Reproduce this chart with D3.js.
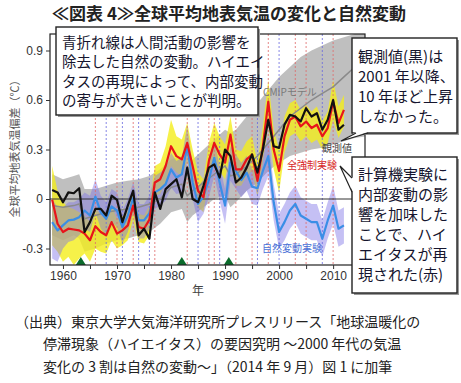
<!DOCTYPE html>
<html><head><meta charset="utf-8">
<script src="https://cdn.jsdelivr.net/npm/d3@7"></script>
<style>
html,body{margin:0;padding:0;background:#fff;}
svg{display:block;}
</style></head>
<body>
<svg id="c" width="461" height="383"></svg>
<script>
// ---------------- data ----------------
const years = d3.range(1958, 2013);
const observed = [0.055,0.04,-0.02,0.04,0.035,0.065,-0.20,-0.14,-0.06,-0.06,-0.10,0.02,-0.005,-0.14,-0.04,0.05,-0.22,-0.18,-0.24,0.04,-0.06,0.06,0.09,0.12,0.01,0.19,0.00,-0.02,0.08,0.19,0.21,0.13,0.30,0.26,0.10,0.13,0.19,0.27,0.16,0.30,0.48,0.32,0.31,0.45,0.51,0.50,0.47,0.55,0.50,0.52,0.42,0.48,0.60,0.42,0.45];
const allForcing = [-0.005,-0.15,-0.20,-0.18,-0.185,-0.19,-0.21,-0.25,-0.165,-0.20,-0.22,-0.14,-0.21,-0.19,-0.16,-0.04,-0.17,-0.18,-0.125,0.10,0.12,0.20,0.32,0.26,0.24,0.34,0.20,0.05,0.01,0.23,0.34,0.27,0.22,0.39,0.18,0.18,0.24,0.27,0.11,0.32,0.59,0.30,0.17,0.38,0.48,0.50,0.44,0.47,0.43,0.45,0.38,0.43,0.59,0.46,0.54];
const natural = [-0.14,-0.19,-0.16,-0.13,-0.125,-0.11,-0.07,-0.10,0.015,-0.08,-0.12,-0.045,-0.07,-0.17,-0.10,0.005,-0.13,-0.13,-0.085,0.04,0.06,0.09,0.18,0.13,0.15,0.32,0.10,-0.03,0.015,0.115,0.25,0.10,-0.04,0.22,0.17,0.115,0.16,0.075,0.065,0.17,0.26,-0.02,-0.20,-0.14,-0.07,-0.03,-0.10,-0.12,-0.14,-0.14,-0.24,-0.13,-0.04,-0.18,-0.16];
const allForcingLo = [-0.28,-0.32,-0.38,-0.35,-0.40,-0.36,-0.33,-0.38,-0.30,-0.32,-0.33,-0.25,-0.30,-0.28,-0.25,-0.12,-0.26,-0.27,-0.22,0.02,0.03,0.10,0.20,0.16,0.14,0.22,0.10,-0.05,-0.08,0.12,0.24,0.17,0.12,0.28,0.08,0.08,0.14,0.17,0.01,0.22,0.46,0.18,0.04,0.28,0.38,0.40,0.35,0.38,0.34,0.36,0.30,0.34,0.48,0.37,0.44];
const allForcingHi = [0.20,0.05,-0.02,-0.05,-0.06,-0.08,-0.10,-0.14,-0.05,-0.10,-0.12,-0.04,-0.12,-0.10,-0.07,0.05,-0.09,-0.10,-0.04,0.20,0.22,0.32,0.48,0.38,0.36,0.46,0.30,0.16,0.12,0.34,0.46,0.38,0.33,0.50,0.30,0.29,0.35,0.38,0.22,0.44,0.72,0.42,0.30,0.50,0.58,0.60,0.54,0.57,0.53,0.56,0.47,0.53,0.72,0.56,0.63];
const naturalLo = [-0.36,-0.38,-0.30,-0.26,-0.25,-0.22,-0.18,-0.20,-0.08,-0.18,-0.22,-0.14,-0.17,-0.27,-0.20,-0.09,-0.24,-0.24,-0.18,-0.06,-0.04,-0.01,0.07,0.03,0.04,0.20,0.00,-0.14,-0.09,0.01,0.14,-0.01,-0.15,0.11,0.06,0.01,0.05,-0.03,-0.04,0.06,0.14,-0.13,-0.30,-0.25,-0.18,-0.14,-0.21,-0.23,-0.25,-0.25,-0.35,-0.24,-0.15,-0.29,-0.27];
const naturalHi = [0.00,-0.05,-0.05,-0.02,-0.02,0.00,0.04,0.02,0.12,0.02,-0.02,0.06,0.04,-0.07,0.00,0.10,-0.03,-0.03,0.02,0.14,0.16,0.19,0.28,0.23,0.25,0.45,0.20,0.07,0.12,0.22,0.36,0.20,0.06,0.32,0.27,0.22,0.26,0.18,0.17,0.27,0.38,0.09,-0.09,-0.03,0.04,0.08,0.01,-0.01,-0.03,-0.03,-0.13,-0.02,0.08,-0.07,-0.05];
const cmipYears = [1958,1960,1962,1963,1964,1966,1968,1970,1972,1974,1976,1978,1980,1982,1983,1984,1986,1988,1990,1991,1992,1994,1996,1998,2000,2002,2004,2006,2008,2010,2012,2014,2016];
const cmipLo   = [-0.22,-0.25,-0.22,-0.24,-0.32,-0.30,-0.27,-0.25,-0.24,-0.22,-0.20,-0.15,-0.08,-0.06,-0.14,-0.10,-0.05,0.00,0.02,-0.05,-0.02,0.05,0.10,0.17,0.22,0.26,0.28,0.30,0.31,0.33,0.35,0.37,0.38];
const cmipHi   = [0.15,0.12,0.14,0.15,0.06,0.06,0.08,0.10,0.11,0.12,0.14,0.18,0.24,0.26,0.20,0.24,0.30,0.36,0.42,0.40,0.42,0.50,0.58,0.66,0.74,0.80,0.86,0.90,0.93,0.96,0.98,1.00,1.00];
const cmipMean = [-0.04,-0.05,-0.04,-0.03,-0.12,-0.10,-0.08,-0.07,-0.06,-0.05,-0.03,0.00,0.07,0.09,0.02,0.05,0.10,0.15,0.20,0.14,0.15,0.20,0.26,0.34,0.42,0.50,0.55,0.60,0.64,0.68,0.74,0.80,0.84];
const elNinoYears = [1966,1970,1973,1977,1983,1987,1988,1992,1995,1998,2003,2005,2010];
const laNinaYears = [1968,1971,1974,1976,1985,1989,1996,2000,2008];
const volcanoYears = [1963.3, 1982, 1990.7];
const yTicks = [-0.3, 0, 0.3, 0.6, 0.9];
const yTickLabels = ["-0.3","0","0.3","0.6","0.9"];
const xMinorTicks = d3.range(1960, 2015, 5);
const xLabelYears = [1960,1970,1980,1990,2000,2010];

const title = "≪図表 4≫全球平均地表気温の変化と自然変動";
const yTitle = "全球平均地表気温偏差（℃）";
const xTitle = "年";
const box1Lines = ["青折れ線は人間活動の影響を","除去した自然の変動。ハイエイ","タスの再現によって、内部変動","の寄与が大きいことが判明。"];
const box2Lines = ["観測値(黒)は","2001 年以降、","10 年ほど上昇","しなかった。"];
const box3Lines = ["計算機実験に","内部変動の影","響を加味した","ことで、ハイ","エイタスが再","現された(赤)"];
const sourceLines = ["（出典）東京大学大気海洋研究所プレスリリース「地球温暖化の","停滞現象（ハイエイタス）の要因究明 ～2000 年代の気温","変化の 3 割は自然の変動～」（2014 年 9 月）図 1 に加筆"];

// ---------------- drawing ----------------
const svg = d3.select("#c");
const L = 50, R = 365, T = 34, B = 265;
const x = d3.scaleLinear().domain([1957.6, 2015.9]).range([L, R]);
const y = d3.scaleLinear().domain([-0.4, 1.0]).range([B, T]);
const JP = "'Noto Sans CJK JP','Noto Sans',sans-serif";
const SANS = "'Liberation Sans',Arial,sans-serif";

svg.append("defs").append("clipPath").attr("id","plotclip")
  .append("rect").attr("x",L).attr("y",T).attr("width",R-L).attr("height",B-T);

// title
svg.append("text").attr("x",229).attr("y",20).attr("text-anchor","middle")
  .attr("font-family",JP).attr("font-weight","bold").attr("font-size",17).attr("fill","#222").text(title);

const g = svg.append("g").attr("clip-path","url(#plotclip)");

// CMIP band
const cmip = cmipYears.map((yr,i)=>({yr, lo:cmipLo[i], hi:cmipHi[i], m:cmipMean[i]}));
g.append("path").datum(cmip)
  .attr("d", d3.area().x(d=>x(d.yr)).y0(d=>y(d.lo)).y1(d=>y(d.hi)))
  .attr("fill","#b4b4b4").attr("opacity",0.85);

const rows = years.map((yr,i)=>({yr, o:observed[i], a:allForcing[i], n:natural[i],
  alo:allForcingLo[i], ahi:allForcingHi[i], nlo:naturalLo[i], nhi:naturalHi[i]}));

// yellow band
g.append("path").datum(rows)
  .attr("d", d3.area().x(d=>x(d.yr)).y0(d=>y(d.alo)).y1(d=>y(d.ahi)))
  .attr("fill","#f4ee1c").attr("opacity",0.8);
// purple band
g.append("path").datum(rows)
  .attr("d", d3.area().x(d=>x(d.yr)).y0(d=>y(d.nlo)).y1(d=>y(d.nhi)))
  .attr("fill","#7e74e6").attr("opacity",0.45);

// event lines
g.selectAll("line.en").data(elNinoYears).join("line").attr("class","en")
  .attr("x1",d=>x(d)).attr("x2",d=>x(d)).attr("y1",T).attr("y2",B)
  .attr("stroke","#e06a6a").attr("stroke-width",1).attr("stroke-dasharray","2,2").attr("opacity",0.8);
g.selectAll("line.ln").data(laNinaYears).join("line").attr("class","ln")
  .attr("x1",d=>x(d)).attr("x2",d=>x(d)).attr("y1",T).attr("y2",B)
  .attr("stroke","#6a6ae0").attr("stroke-width",1).attr("stroke-dasharray","2,2").attr("opacity",0.8);

// zero line
g.append("line").attr("x1",L).attr("x2",R).attr("y1",y(0)).attr("y2",y(0))
  .attr("stroke","#333").attr("stroke-width",1);

// CMIP mean line
g.append("path").datum(cmip)
  .attr("d", d3.line().x(d=>x(d.yr)).y(d=>y(d.m)))
  .attr("fill","none").attr("stroke","#8a8a8a").attr("stroke-width",1.5);

// series lines
const ln = key => d3.line().x(d=>x(d.yr)).y(d=>y(d[key]));
g.append("path").datum(rows).attr("d",ln("n")).attr("fill","none").attr("stroke","#3a8ee6").attr("stroke-width",2.2).attr("stroke-linejoin","round");
g.append("path").datum(rows).attr("d",ln("a")).attr("fill","none").attr("stroke","#e8141a").attr("stroke-width",2.2).attr("stroke-linejoin","round");
g.append("path").datum(rows).attr("d",ln("o")).attr("fill","none").attr("stroke","#111").attr("stroke-width",2.2).attr("stroke-linejoin","round");

// volcano triangles
svg.selectAll("path.vol").data(volcanoYears).join("path").attr("class","vol")
  .attr("d", d=>`M${x(d)-5},${B} L${x(d)},${B-8} L${x(d)+5},${B} Z`)
  .attr("fill","#0b6b2b");

// frame
svg.append("rect").attr("x",L).attr("y",T).attr("width",R-L).attr("height",B-T)
  .attr("fill","none").attr("stroke","#222").attr("stroke-width",1.2);

// axes
const ya = svg.append("g").attr("transform",`translate(${L},0)`)
  .call(d3.axisLeft(y).tickValues(yTicks).tickFormat((d,i)=>yTickLabels[i]).tickSize(4).tickPadding(3));
ya.select(".domain").remove();
ya.selectAll("text").attr("font-family",SANS).attr("font-size",12).attr("fill","#333");
ya.selectAll("line").attr("stroke","#333");

const xa = svg.append("g").attr("transform",`translate(0,${B})`)
  .call(d3.axisBottom(x).tickValues(xMinorTicks).tickFormat(d=>xLabelYears.includes(d)?String(d):"").tickSize(4).tickPadding(2));
xa.select(".domain").remove();
xa.selectAll("text").attr("font-family",SANS).attr("font-size",12).attr("fill","#333");
xa.selectAll("line").attr("stroke","#333");

// axis titles
svg.append("text").attr("transform","translate(19,146) rotate(-90)").attr("text-anchor","middle")
  .attr("font-family",JP).attr("font-size",11).attr("fill","#555").text(yTitle);
svg.append("text").attr("x",198).attr("y",295).attr("text-anchor","middle")
  .attr("font-family",JP).attr("font-size",12).attr("fill","#444").text(xTitle);

// in-plot labels
const lab = (tx,px,py,col)=>svg.append("text").attr("x",px).attr("y",py).attr("font-family",JP)
  .attr("font-size",10).attr("fill",col).text(tx);
lab("CMIPモデル",263,96,"#7a7a7a");
lab("観測値",322,152,"#444");
lab("全強制実験",287,169,"#d82828");
lab("自然変動実験",262,252,"#4a6fd6");

// callout boxes
function box(x0,y0,w,h,lines,fs,lh,tx,ty,pointer){
  const gb = svg.append("g");
  gb.append("rect").attr("x",x0+2).attr("y",y0+2).attr("width",w).attr("height",h).attr("fill","#999");
  gb.append("rect").attr("x",x0).attr("y",y0).attr("width",w).attr("height",h).attr("fill","#fff").attr("stroke","#222").attr("stroke-width",1.4);
  if(pointer){
    gb.append("path").attr("d",pointer.fill).attr("fill","#fff");
    gb.append("path").attr("d",pointer.stroke).attr("fill","none").attr("stroke","#222").attr("stroke-width",1.2);
  }
  lines.forEach((t,i)=>gb.append("text").attr("x",tx).attr("y",ty+i*lh).attr("font-family",JP)
    .attr("font-size",fs).attr("fill","#15152e").text(t));
}
box(56,27,202,88,box1Lines,14.5,19.3,62,48,null);
box(352,38,105,95,box2Lines,15,20,358,62,
  {fill:"M356,132 L341,141 L368,132 Z", stroke:"M356,133 L341,141 L368,133"});
box(352,157,105,136,box3Lines,15,20,358,180,
  {fill:"M353,178 L340,166 L353,192 Z", stroke:"M352,178 L340,166 L352,192"});

// source
sourceLines.forEach((t,i)=>svg.append("text").attr("x",i===0?15:43).attr("y",[327,349,372][i])
  .attr("font-family",JP).attr("font-size",14).attr("fill","#222").text(t));
</script>
</body></html>
